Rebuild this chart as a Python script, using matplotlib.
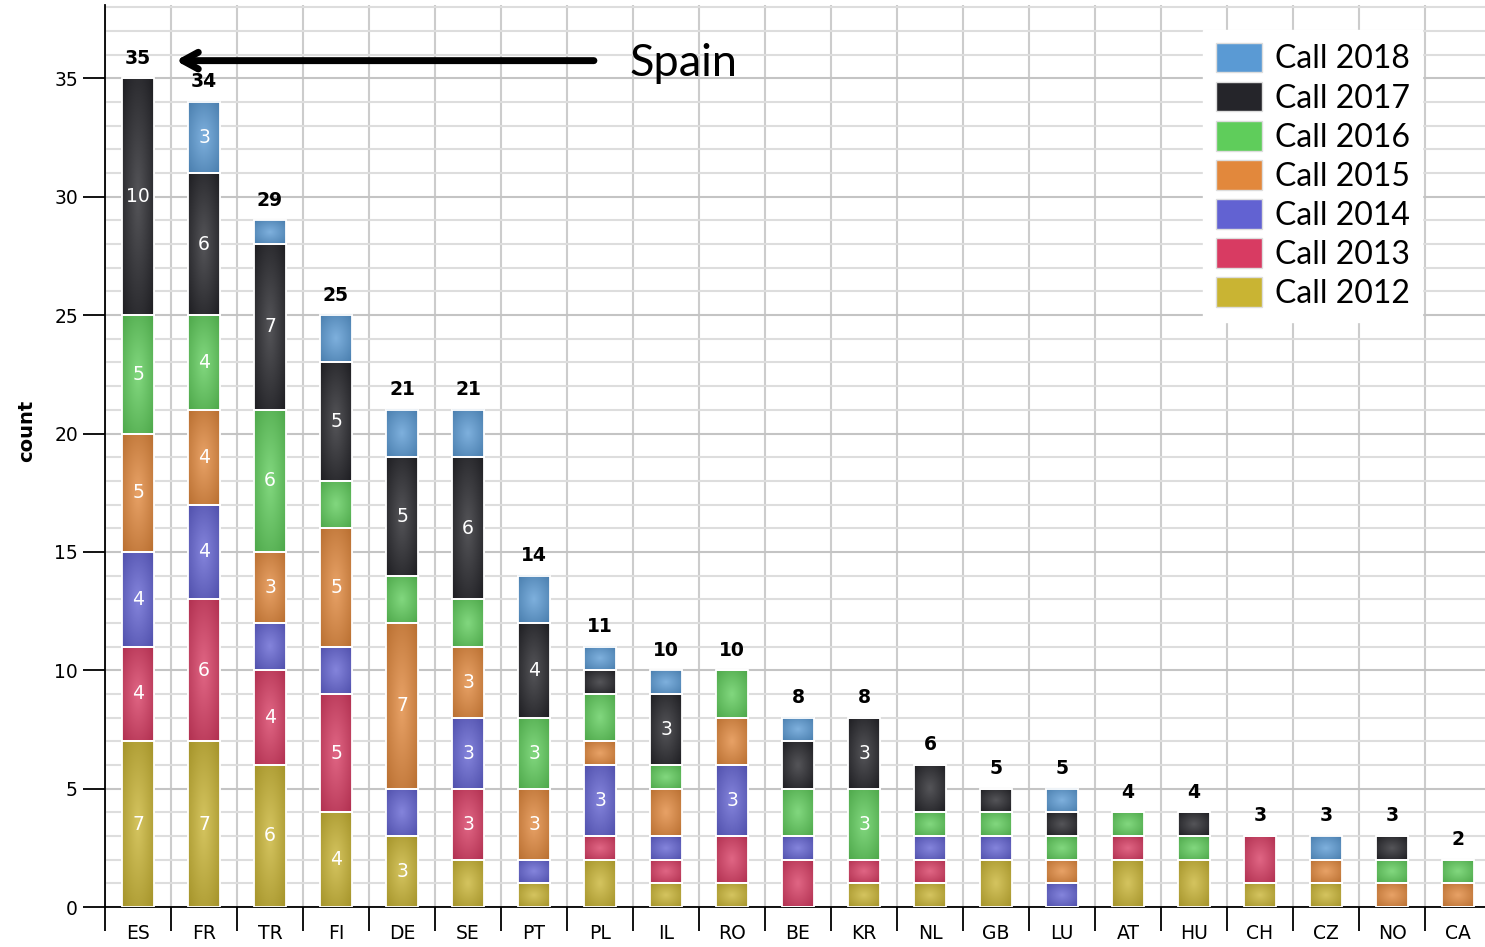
import numpy as np
import matplotlib
matplotlib.use('Agg')
import matplotlib.pyplot as plt
from matplotlib.patches import Patch
from matplotlib.colors import to_rgb

countries = ['ES', 'FR', 'TR', 'FI', 'DE', 'SE', 'PT', 'PL', 'IL', 'RO', 'BE',
             'KR', 'NL', 'GB', 'LU', 'AT', 'HU', 'CH', 'CZ', 'NO', 'CA']

call_2012 = [7, 7, 6, 4, 3, 2, 1, 2, 1, 1, 0, 1, 1, 2, 0, 2, 2, 1, 1, 0, 0]
call_2013 = [4, 6, 4, 5, 0, 3, 0, 1, 1, 2, 2, 1, 1, 0, 0, 1, 0, 2, 0, 0, 0]
call_2014 = [4, 4, 2, 2, 2, 3, 1, 3, 1, 3, 1, 0, 1, 1, 1, 0, 0, 0, 0, 0, 0]
call_2015 = [5, 4, 3, 5, 7, 3, 3, 1, 2, 2, 0, 0, 0, 0, 1, 0, 0, 0, 1, 1, 1]
call_2016 = [5, 4, 6, 2, 2, 2, 3, 2, 1, 2, 2, 3, 1, 1, 1, 1, 1, 0, 0, 1, 1]
call_2017 = [10, 6, 7, 5, 5, 6, 4, 1, 3, 0, 2, 3, 2, 1, 1, 0, 1, 0, 0, 1, 0]
call_2018 = [0, 3, 1, 2, 2, 2, 2, 1, 1, 0, 1, 0, 0, 0, 1, 0, 0, 0, 1, 0, 0]

series = [('Call 2012', call_2012, '#c9b433'),
          ('Call 2013', call_2013, '#d83b62'),
          ('Call 2014', call_2014, '#6262d2'),
          ('Call 2015', call_2015, '#e2883c'),
          ('Call 2016', call_2016, '#5fcd5b'),
          ('Call 2017', call_2017, '#25252a'),
          ('Call 2018', call_2018, '#5a9ad4')]

W = 0.48

# glossy look: light centre, darker edges
gy, gx = np.mgrid[-1:1:24j, -1:1:24j]
rr = np.clip(np.sqrt(gx ** 2 + gy ** 2) / np.sqrt(2), 0, 1)[..., None]


def gloss(col):
    c = np.array(to_rgb(col))
    light = c + (1 - c) * 0.22
    dark = c * 0.82
    return light * (1 - rr) + dark * rr


fig = plt.figure(figsize=(14.85, 9.47), dpi=100)
ax = fig.add_axes([105 / 1485, 40 / 947, 1386 / 1485, 1 - 45 / 947])

x = np.arange(len(countries))
bottom = np.zeros(len(countries))
handles = []
for name, vals, col in series:
    vals = np.array(vals)
    img = gloss(col)
    for i, v in enumerate(vals):
        if v > 0:
            ax.imshow(img, extent=(x[i] - W / 2, x[i] + W / 2, bottom[i], bottom[i] + v),
                      aspect='auto', interpolation='bilinear', zorder=3)
    ax.bar(x, vals, W, bottom=bottom, fill=False, edgecolor='white',
           linewidth=1.3, zorder=3.5)
    for i, v in enumerate(vals):
        if v >= 3:
            ax.text(x[i], bottom[i] + v / 2, str(v), ha='center', va='center',
                    color='white', fontsize=13.5, zorder=4)
    bottom += vals
    handles.append(Patch(facecolor=col, edgecolor='#dddddd', label=name))

for i, t in enumerate(bottom):
    ax.text(x[i], t + 0.85, str(int(t)), ha='center', va='center',
            fontsize=13.5, fontweight='bold', zorder=4)

ax.set_xlim(-0.5, len(countries) - 0.5)
ax.set_ylim(0, 38.1)
ax.set_xticks(x)
ax.set_xticklabels(countries, fontsize=13.5)
ax.set_xticks(np.arange(-0.5, len(countries)), minor=True)
ax.tick_params(axis='x', which='major', length=0, pad=12)
ax.tick_params(axis='x', which='minor', length=17, width=1.3, direction='out')
ax.set_yticks(np.arange(0, 36, 5))
ax.set_yticks(np.arange(0, 39, 1), minor=True)
ax.tick_params(axis='y', which='major', length=16, width=1.3, labelsize=13.5)
ax.tick_params(axis='y', which='minor', length=0)
ax.set_ylabel('count', fontsize=14, fontweight='bold')
ax.yaxis.set_label_coords(-0.050, 0.528)

ax.grid(True, axis='x', which='minor', color='#cccccc', linewidth=1.5, zorder=0)
ax.grid(True, axis='y', which='minor', color='#dddddd', linewidth=1.5, zorder=0)
ax.grid(True, axis='y', which='major', color='#c4c4c4', linewidth=1.5, zorder=0)
for s in ['top', 'right']:
    ax.spines[s].set_visible(False)
ax.spines['left'].set_linewidth(1.3)
ax.spines['bottom'].set_linewidth(1.3)

leg = ax.legend(handles=handles[::-1], loc='upper left',
                bbox_to_anchor=(0.7805, 0.99), prop={'family': 'Lato', 'size': 23},
                frameon=True, fancybox=False, edgecolor='white', framealpha=1,
                handlelength=1.45, handleheight=1.05, labelspacing=0.23,
                handletextpad=0.4, borderpad=0.4)
leg.set_zorder(5)

ax.annotate('', xy=(0.53, 35.75), xytext=(6.95, 35.75),
            arrowprops=dict(arrowstyle='->,head_length=1.1,head_width=0.6',
                            color='black', lw=5), zorder=6)
ax.text(7.45, 35.65, 'Spain', fontsize=32.5, family='Lato', va='center',
        ha='left', zorder=6)

fig.savefig('out.png', dpi=100)
